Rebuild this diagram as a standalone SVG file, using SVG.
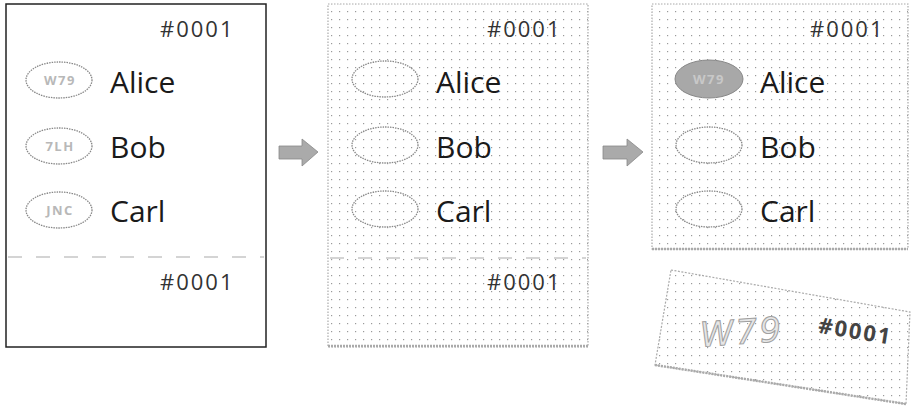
<svg xmlns="http://www.w3.org/2000/svg" width="915" height="409" viewBox="0 0 915 409">
<defs>
<pattern id="dots" width="8" height="8" patternUnits="userSpaceOnUse">
<rect x="3" y="3" width="1.2" height="1.2" fill="#9a9a9a"/>
</pattern>
<style>
.name{font-family:"Open Sans","Noto Sans",sans-serif;font-size:30px;fill:#1a1a1a}
.num{font-family:"Open Sans","Noto Sans",sans-serif;font-size:22px;letter-spacing:2px;fill:#333}
.code{font-family:"Open Sans","Noto Sans",sans-serif;font-size:13px;font-weight:bold;letter-spacing:1.5px;fill:#b8b8b8;text-anchor:middle}
.oval{fill:none;stroke:#888;stroke-width:1.3;stroke-dasharray:1.5 1}
.perf{stroke:#aaa;stroke-width:1.2;stroke-dasharray:14 14}
.paper{fill:url(#dots);stroke:#aaa;stroke-width:1.2;stroke-dasharray:1.5 1.5}
.arrow{fill:#aaa;stroke:#888;stroke-width:0.8}
</style>
</defs>

<g id="ballot-original">
<rect x="6" y="4" width="260" height="343" fill="#fff" stroke="#222" stroke-width="1.5"/>
<text class="num" x="160" y="37">#0001</text>
<ellipse class="oval" cx="59" cy="80" rx="33" ry="18"/>
<text class="code" x="60" y="85">W79</text>
<text class="name" x="110" y="93">Alice</text>
<ellipse class="oval" cx="59" cy="146" rx="33" ry="18"/>
<text class="code" x="60" y="151">7LH</text>
<text class="name" x="110" y="158">Bob</text>
<ellipse class="oval" cx="59" cy="210" rx="33" ry="18"/>
<text class="code" x="60" y="215">JNC</text>
<text class="name" x="110" y="222">Carl</text>
<line class="perf" x1="8" y1="257" x2="264" y2="257"/>
<text class="num" x="160" y="290">#0001</text>
</g>

<g id="ballot-scratched">
<rect class="paper" x="328" y="4" width="260" height="343"/>
<line x1="328" y1="346" x2="588" y2="346" stroke="#aaa" stroke-width="2.5" stroke-dasharray="2 1"/>
<text class="num" x="487" y="37">#0001</text>
<ellipse class="oval" cx="385" cy="79" rx="33" ry="18"/>
<text class="name" x="436" y="93">Alice</text>
<ellipse class="oval" cx="385" cy="145" rx="33" ry="18"/>
<text class="name" x="436" y="158">Bob</text>
<ellipse class="oval" cx="385" cy="209" rx="33" ry="18"/>
<text class="name" x="436" y="222">Carl</text>
<line class="perf" x1="330" y1="258" x2="586" y2="258"/>
<text class="num" x="487" y="290">#0001</text>
</g>

<g id="ballot-voted">
<rect class="paper" x="652" y="4" width="256" height="245"/>
<line x1="652" y1="249" x2="908" y2="249" stroke="#aaa" stroke-width="2.5" stroke-dasharray="2 1"/>
<text class="num" x="810" y="37">#0001</text>
<ellipse cx="709" cy="79" rx="34" ry="19" fill="#a8a8a8" stroke="#888" stroke-width="1"/>
<text class="code" x="709" y="84" style="fill:#c8c8c8">W79</text>
<text class="name" x="760" y="93">Alice</text>
<ellipse class="oval" cx="709" cy="145" rx="33" ry="18"/>
<text class="name" x="760" y="158">Bob</text>
<ellipse class="oval" cx="709" cy="209" rx="33" ry="18"/>
<text class="name" x="760" y="222">Carl</text>
</g>

<g id="receipt-stub">
<polygon points="671,270 910,312 906,404 655,365" fill="url(#dots)" stroke="#aaa" stroke-width="1.2" stroke-dasharray="2 1.5"/>
<line x1="655" y1="365" x2="906" y2="404" stroke="#aaa" stroke-width="2.5" stroke-dasharray="2 1"/>
<text x="700" y="344" transform="rotate(-4 740 330)" font-family="DejaVu Sans, sans-serif" font-style="italic" font-size="34" fill="#e6e6e6" stroke="#a0a0a0" stroke-width="1" letter-spacing="2">W79</text>
<text class="num" x="818" y="339" transform="rotate(9 857 332)" style="font-weight:bold;fill:#444">#0001</text>
</g>

<g id="connectors">
<polygon class="arrow" points="279,146 302,146 302,139 318,152 302,166 302,159 279,159"/>
<polygon class="arrow" points="603,146 627,146 627,139 643,152 627,166 627,159 603,159"/>
</g>
</svg>
